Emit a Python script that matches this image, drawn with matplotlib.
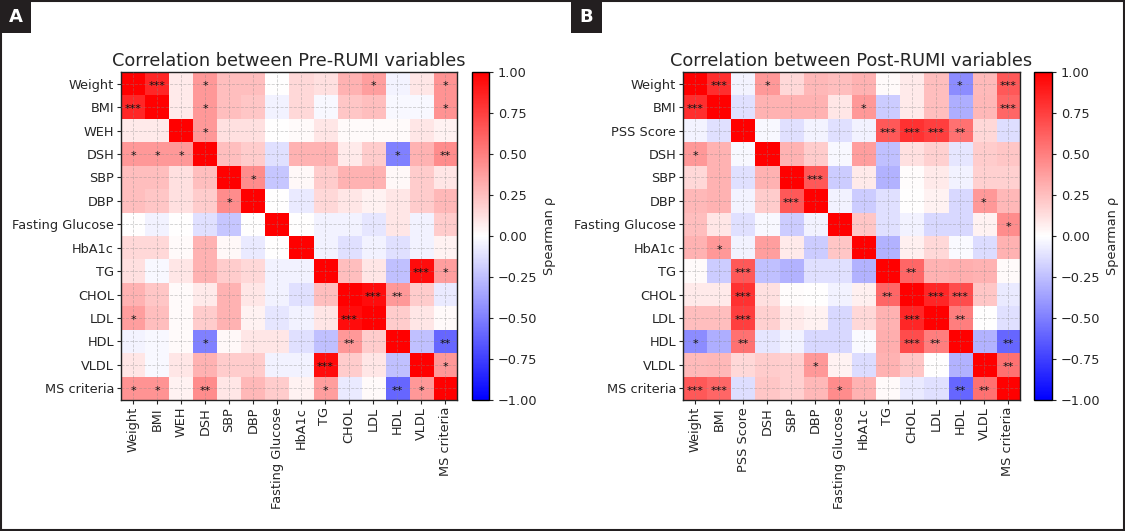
import numpy as np
import matplotlib
matplotlib.use("Agg")
import matplotlib.pyplot as plt
from matplotlib.patches import Rectangle

# ---------------- data ----------------
pre_labels = ["Weight", "BMI", "WEH", "DSH", "SBP", "DBP", "Fasting Glucose",
              "HbA1c", "TG", "CHOL", "LDL", "HDL", "VLDL", "MS criteria"]
post_labels = ["Weight", "BMI", "PSS Score", "DSH", "SBP", "DBP", "Fasting Glucose",
               "HbA1c", "TG", "CHOL", "LDL", "HDL", "VLDL", "MS criteria"]

# lower triangle (row i, columns 0..i-1) of Spearman rho, Pre-RUMI
pre_lower = [
    [0.85],
    [0.08, 0.08],
    [0.40, 0.40, 0.40],
    [0.25, 0.25, 0.12, 0.25],
    [0.25, 0.22, 0.12, 0.20, 0.45],
    [0.00, -0.05, 0.00, -0.12, -0.22, 0.00],
    [0.15, 0.15, 0.02, 0.30, 0.03, -0.08, 0.00],
    [0.12, -0.03, 0.10, 0.30, 0.20, 0.15, -0.05, -0.05],
    [0.30, 0.22, 0.02, 0.08, 0.30, 0.10, -0.05, -0.12, 0.25],
    [0.38, 0.25, 0.02, 0.20, 0.30, 0.05, -0.10, -0.05, 0.10, 0.95],
    [-0.04, -0.03, 0.02, -0.50, 0.03, 0.10, 0.10, -0.12, -0.25, 0.40, 0.20],
    [0.10, -0.03, 0.10, 0.30, 0.20, 0.20, -0.05, -0.05, 0.95, 0.20, 0.10, -0.25],
    [0.42, 0.42, 0.05, 0.45, 0.10, 0.28, 0.20, 0.05, 0.38, -0.08, 0.02, -0.60, 0.40],
]

# lower triangle of Spearman rho, Post-RUMI
post_lower = [
    [0.82],
    [-0.04, -0.12],
    [0.40, 0.30, -0.03],
    [0.15, 0.30, -0.12, 0.30],
    [0.28, 0.30, -0.04, 0.20, 0.65],
    [0.25, 0.10, -0.12, -0.03, -0.20, -0.05],
    [0.30, 0.40, -0.05, 0.38, 0.08, -0.20, 0.22],
    [0.02, -0.20, 0.65, -0.25, -0.30, -0.12, -0.12, -0.30],
    [0.08, 0.08, 0.80, 0.12, 0.01, 0.00, -0.05, 0.06, 0.60],
    [0.25, 0.25, 0.75, 0.18, 0.08, 0.05, -0.15, 0.15, 0.30, 0.85],
    [-0.45, -0.32, 0.55, -0.10, -0.05, -0.15, -0.15, -0.02, 0.32, 0.70, 0.50],
    [0.27, 0.28, 0.15, 0.20, 0.18, 0.40, 0.05, -0.14, 0.30, 0.22, 0.00, -0.30],
    [0.65, 0.60, -0.13, 0.22, 0.18, 0.28, 0.45, 0.30, 0.02, -0.08, -0.12, -0.60, 0.55],
]

# significance marks (row, column, stars) – mirrored on both sides
pre_stars = [
    ("BMI", "Weight", "***"), ("DSH", "Weight", "*"), ("LDL", "Weight", "*"),
    ("MS criteria", "Weight", "*"), ("DSH", "BMI", "*"), ("MS criteria", "BMI", "*"),
    ("DSH", "WEH", "*"), ("HDL", "DSH", "*"), ("MS criteria", "DSH", "**"),
    ("DBP", "SBP", "*"), ("VLDL", "TG", "***"), ("MS criteria", "TG", "*"),
    ("LDL", "CHOL", "***"), ("HDL", "CHOL", "**"), ("MS criteria", "HDL", "**"),
    ("MS criteria", "VLDL", "*"),
]
post_stars = [
    ("BMI", "Weight", "***"), ("DSH", "Weight", "*"), ("HDL", "Weight", "*"),
    ("MS criteria", "Weight", "***"), ("HbA1c", "BMI", "*"), ("MS criteria", "BMI", "***"),
    ("TG", "PSS Score", "***"), ("CHOL", "PSS Score", "***"), ("LDL", "PSS Score", "***"),
    ("HDL", "PSS Score", "**"), ("DBP", "SBP", "***"), ("VLDL", "DBP", "*"),
    ("MS criteria", "Fasting Glucose", "*"), ("CHOL", "TG", "**"), ("LDL", "CHOL", "***"),
    ("HDL", "CHOL", "***"), ("HDL", "LDL", "**"), ("MS criteria", "HDL", "**"),
    ("MS criteria", "VLDL", "**"),
]

titles = ["Correlation between Pre-RUMI variables",
          "Correlation between Post-RUMI variables"]
panel_letters = ["A", "B"]


def build(lower):
    n = len(lower) + 1
    m = np.eye(n)
    for i, row in enumerate(lower, start=1):
        for j, v in enumerate(row):
            m[i, j] = v
            m[j, i] = v
    return m


W, H = 1125, 531
fig = plt.figure(figsize=(W / 100, H / 100), dpi=100)
txt = "#262626"


def px(x0, y0, x1, y1):
    return [x0 / W, 1 - y1 / H, (x1 - x0) / W, (y1 - y0) / H]


panels = [
    (pre_labels, pre_lower, pre_stars, px(121, 72, 457, 400), px(472, 72, 489, 400)),
    (post_labels, post_lower, post_stars, px(683, 72, 1020, 400), px(1034, 72, 1052, 400)),
]

for k, (labels, lower, stars, apos, cpos) in enumerate(panels):
    m = build(lower)
    n = len(labels)
    ax = fig.add_axes(apos)
    im = ax.imshow(m, cmap="bwr", vmin=-1, vmax=1, aspect="auto",
                   interpolation="nearest")
    ax.set_xticks(range(n))
    ax.set_xticklabels(labels, rotation=90, fontsize=9.3, color=txt)
    ax.set_yticks(range(n))
    ax.set_yticklabels(labels, fontsize=9.3, color=txt)
    ax.tick_params(length=3, width=0.8, pad=2, color=txt)
    ax.grid(True, linestyle="--", linewidth=0.6, color="#888888", alpha=0.4)
    ax.set_axisbelow(False)
    for sp in ax.spines.values():
        sp.set_linewidth(1.0)
        sp.set_color("#222222")
    for r, c, s in stars:
        i, j = labels.index(r), labels.index(c)
        for (a, b) in [(i, j), (j, i)]:
            ax.text(b, a + 0.1, s, ha="center", va="center", fontsize=8, color="#111111")
    ax.set_title(titles[k], fontsize=12.8, color=txt, pad=4)

    cax = fig.add_axes(cpos)
    cb = fig.colorbar(im, cax=cax)
    cb.set_ticks(np.arange(-1, 1.01, 0.25))
    cb.ax.tick_params(labelsize=9.3, length=3, width=0.8, labelcolor=txt, color=txt)
    cb.set_label("Spearman ρ", fontsize=9.3, color=txt, labelpad=4)
    cb.outline.set_linewidth(1.0)

# panel letters
for x0, letter in zip([0, 571], panel_letters):
    fig.patches.append(Rectangle((x0 / W, 1 - 33 / H), 31 / W, 33 / H,
                                 transform=fig.transFigure, facecolor="#231f20",
                                 edgecolor="none", zorder=5))
    fig.text((x0 + 15.5) / W, 1 - 16.5 / H, letter, ha="center", va="center",
             color="white", fontsize=13, fontweight="bold", zorder=6)

# outer border
fig.patches.append(Rectangle((0.0008, 0.0015), 0.9984, 0.997, transform=fig.transFigure,
                             facecolor="none", edgecolor="#231f20", linewidth=1.5,
                             zorder=4))

fig.savefig("out.png", dpi=100)
